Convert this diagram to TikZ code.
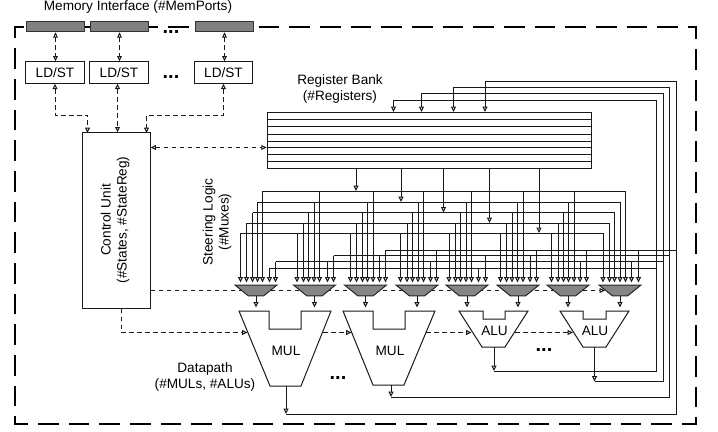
\documentclass[tikz,border=0pt]{standalone}
\usepackage{fontspec}
\setmainfont{Liberation Sans}
\usetikzlibrary{arrows.meta,shapes.geometric,backgrounds}

\begin{document}
\begin{tikzpicture}[
  x=0.75pt, y=-0.75pt,
  font=\fontsize{10.2}{12}\selectfont,
  wire/.style={draw=black!90, line width=0.75pt},
  arrow/.style={wire, -{Triangle[open,length=4pt,width=3.6pt,fill=white]}},
  ctrl/.style={arrow, dashed, dash pattern=on 3.6pt off 2.4pt},
  biarrow/.style={ctrl, {Triangle[open,length=4pt,width=3.6pt,fill=white]}-{Triangle[open,length=4pt,width=3.6pt,fill=white]}},
  border/.style={draw=black, line width=1.5pt, dash pattern=on 15.5pt off 7.5pt},
  box/.style={draw=black!90, line width=0.75pt, fill=white, inner sep=0pt, align=center},
  portbox/.style={draw=black!80, line width=0.75pt, fill=black!50, inner sep=0pt, minimum width=44pt, minimum height=8pt},
  ldst/.style={box, minimum width=44pt, minimum height=16pt},
  muxbox/.style={draw=black!85, line width=0.75pt, fill=black!48, trapezium, shape border rotate=180, trapezium angle=48, trapezium stretches=true, inner sep=0.5pt, minimum width=31.5pt, minimum height=8.2pt},
  fu/.style={draw=black!90, line width=0.75pt, fill=white},
  dots/.style={font=\fontsize{15}{15}\selectfont\bfseries, inner sep=0pt},
]
\useasboundingbox (0,0) rectangle (718,432);

% memory side
\node[portbox] (port1) at (55.5,26.5) {};
\node[portbox] (port2) at (119.5,26.5) {};
\node[portbox] (port3) at (224.5,26.5) {};
\node[ldst] (ls1) at (55,72.5) {LD/ST};
\node[ldst] (ls2) at (119,72.5) {LD/ST};
\node[ldst] (ls3) at (223.5,72.5) {LD/ST};
\node[inner sep=0pt] (memlbl) at (138,7) {Memory Interface (\#MemPorts)};
\node[dots] (dots1) at (171,32) {...};
\node[dots] (dots2) at (171,77) {...};

\coordinate (bordertr) at (696,26.5);
\coordinate (borderbl) at (15,424);
\draw[border, dash phase=19.7pt] (port3.east) -- (bordertr) |- (borderbl) |- (port1.west);
\begin{scope}[on background layer]
  \draw[border, dash phase=6.75pt] (port1.east) -- (port3.west);
\end{scope}

\node[box, minimum width=51pt, minimum height=131.5pt] (ctl) at (116,220.5) {};
\node[rotate=90, align=center, inner sep=0pt] (ctllbl) at (115,220) {Control Unit\\(\#States, \#StateReg)};

\draw[biarrow] (port1.south) -- (ls1.north -| port1.south);
\draw[biarrow] (port2.south) -- (ls2.north -| port2.south);
\draw[biarrow] (port3.south) -- (ls3.north -| port3.south);

\coordinate (lsbus) at (0,115);
\coordinate (ctlin1) at (87.5,133);
\coordinate (ctlin3) at (146.5,133);
\draw[biarrow] (ls1.south) |- (lsbus -| ctlin1) -- (ctlin1);
\draw[biarrow] (ls2.south -| 117.5,0) -- (ctl.north -| 117.5,0);
\draw[biarrow] (ls3.south) |- (lsbus -| ctlin3) -- (ctlin3);

% register bank
\node[box, minimum width=243.5pt, minimum height=42pt] (bank) at (429.5,140) {};
\foreach \y in {119.5,126.5,134,141,147.5,154.5,161.5} {
  \draw[wire] (bank.west |- 0,\y) -- (bank.east |- 0,\y);
}
\node[align=center, inner sep=0pt] (banklbl) at (340,89) {Register Bank\\(\#Registers)};
\draw[biarrow] (ctl.east |- 0,147.5) -- (bank.west |- 0,147.5);

\coordinate (regin1) at (393.5,112);
\coordinate (regin2) at (421.5,112);
\coordinate (regin3) at (453.5,112);
\coordinate (regin4) at (485,112);
\coordinate (regout1) at (356,168);
\coordinate (regout2) at (401,168);
\coordinate (regout3) at (443.5,168);
\coordinate (regout4) at (489.5,168);
\coordinate (regout5) at (539,168);

% rails above the muxes
\coordinate (rail1) at (0,233);
\coordinate (rail2) at (0,223);
\coordinate (rail3) at (0,212.5);
\coordinate (rail4) at (0,202);
\coordinate (rail5) at (0,191);
\coordinate (railA) at (0,250);
\coordinate (railB) at (0,255.5);
\coordinate (railC) at (0,261.5);
\coordinate (railD) at (0,268);
\coordinate (busA) at (676,81);
\coordinate (busB) at (669,87.5);
\coordinate (busC) at (663,93.5);
\coordinate (busD) at (656.5,100.5);

% muxes
\foreach \m/\x in {1/256,2/314.5,3/365.5,4/417,5/467,6/518,7/568,8/620} {
  \node[muxbox] (mux\m) at (\x,290.5) {};
}
\foreach \m/\pins in {
  1/{240.5,246.5,252.5,257.5,262.5,269.5,275.5},
  2/{297,303.5,308.5,314,319.5,327.5,333.5},
  3/{350.5,356.5,362.5,367.5,373,379.5,385.5},
  4/{400.5,407,412.5,418,423.5,430.5,436.5},
  5/{449,455.5,460.5,466,471.5,478.5,485.5},
  6/{500.5,506.5,512,517.5,523,530,536.5},
  7/{551.5,558,563.5,568.5,574,580,586.5},
  8/{603,609.5,614.5,620,625.5,631.5,638.5}} {
  \foreach \x [count=\p] in \pins {
    \coordinate (m\m p\p) at (\x,282.5);
  }
  \draw[arrow] (m\m p1 |- rail1) -- (m\m p1);
  \draw[arrow] (m\m p2 |- rail2) -- (m\m p2);
  \draw[arrow] (m\m p3 |- rail3) -- (m\m p3);
  \draw[arrow] (m\m p4 |- rail4) -- (m\m p4);
  \draw[arrow] (m\m p5 |- rail5) -- (m\m p5);
}
\draw[wire] (m1p1 |- rail1) -- (m8p1 |- rail1);
\draw[wire] (m1p2 |- rail2) -- (m8p2 |- rail2);
\draw[wire] (m1p3 |- rail3) -- (m8p3 |- rail3);
\draw[wire] (m1p4 |- rail4) -- (m8p4 |- rail4);
\draw[wire] (m1p5 |- rail5) -- (m8p5 |- rail5);
\draw[wire] (m3p7 |- railA) -- (busA |- railA);
\draw[wire] (m2p7 |- railB) -- (busB |- railB);
\draw[wire] (m1p7 |- railC) -- (busC |- railC);
\draw[wire] (m1p6 |- railD) -- (busD |- railD);
\foreach \p in {m3p7,m4p7,m6p7,m7p7,m8p7} {\draw[arrow] (\p |- railA) -- (\p);}
\foreach \p in {m2p7,m3p6,m5p7,m6p6} {\draw[arrow] (\p |- railB) -- (\p);}
\foreach \p in {m1p7,m2p6,m4p6,m7p6,m8p6} {\draw[arrow] (\p |- railC) -- (\p);}
\foreach \p in {m1p6,m5p6} {\draw[arrow] (\p |- railD) -- (\p);}

\draw[arrow] (regout1) -- (regout1 |- rail5);
\draw[arrow] (regout2) -- (regout2 |- rail4);
\draw[arrow] (regout3) -- (regout3 |- rail3);
\draw[arrow] (regout4) -- (regout4 |- rail2);
\draw[arrow] (regout5) -- (regout5 |- rail1);

% functional units
\draw[fu] (239,311) -- (269,311) |- (301,329) |- (331,311) -- (301,386) -- (270,386) -- cycle;
\draw[fu] (343,311) -- (373,311) |- (405,329) |- (435,311) -- (404,385) -- (373,385) -- cycle;
\draw[fu] (459,311) -- (483,311) |- (505,319) |- (528,311) -- (505,347) -- (482,347) -- cycle;
\draw[fu] (560,311) -- (583,311) |- (606,319) |- (629,311) -- (606,347) -- (583,347) -- cycle;
\node[inner sep=0pt] (mul1) at (286,351) {MUL};
\node[inner sep=0pt] (mul2) at (390,351) {MUL};
\node[inner sep=0pt] (alu1) at (494.5,331) {ALU};
\node[inner sep=0pt] (alu2) at (595,331) {ALU};
\node[align=center, inner sep=0pt] (dplbl) at (205,376.5) {Datapath\\(\#MULs, \#ALUs)};
\node[rotate=90, align=center, inner sep=0pt] (steerlbl) at (217,222) {Steering Logic\\(\#Muxes)};
\node[dots] (dots3) at (338,378) {...};
\node[dots] (dots4) at (544,350) {...};

\foreach \m in {1,...,8} {
  \coordinate (mo\m) at (mux\m.south |- 0,307.5);
  \draw[arrow] (mux\m.south) -- (mo\m);
}

\coordinate (mul1out) at (286,386);
\coordinate (mul2out) at (391,385);
\coordinate (alu1out) at (494,347);
\coordinate (alu2out) at (594.5,347);
\coordinate (tapA) at (286,414);
\coordinate (tapB) at (391,397);
\coordinate (tapC) at (594.5,381.5);
\coordinate (tapD) at (494,371);
\draw[arrow] (mul1out) -- (tapA);
\draw[arrow] (mul2out) -- (tapB);
\draw[arrow] (alu1out) -- (tapD);
\draw[arrow] (alu2out) -- (tapC);
\draw[arrow] (tapA) -| (busA) -| (regin4);
\draw[arrow] (tapB) -| (busB) -| (regin3);
\draw[arrow] (tapC) -| (busC) -| (regin2);
\draw[arrow] (tapD) -| (busD) -| (regin1);

% control lines
\coordinate (mul1l) at (247.5,332.5);
\coordinate (mul1r) at (323,332.5);
\coordinate (mul2l) at (351.5,332.5);
\coordinate (mul2r) at (426,332.5);
\coordinate (alu1l) at (471.5,332.5);
\coordinate (alu1r) at (515,332.5);
\coordinate (alu2l) at (573,332.5);
\draw[ctrl] (ctl.south -| 121,0) |- (mul1l);
\draw[ctrl] (mul1r) -- (mul2l);
\draw[ctrl] (mul2r) -- (alu1l);
\draw[ctrl] (alu1r) -- (alu2l);
\begin{scope}[on background layer]
  \draw[ctrl] (ctl.east |- mux8.west) -- (mux8.west);
\end{scope}
\end{tikzpicture}
\end{document}
